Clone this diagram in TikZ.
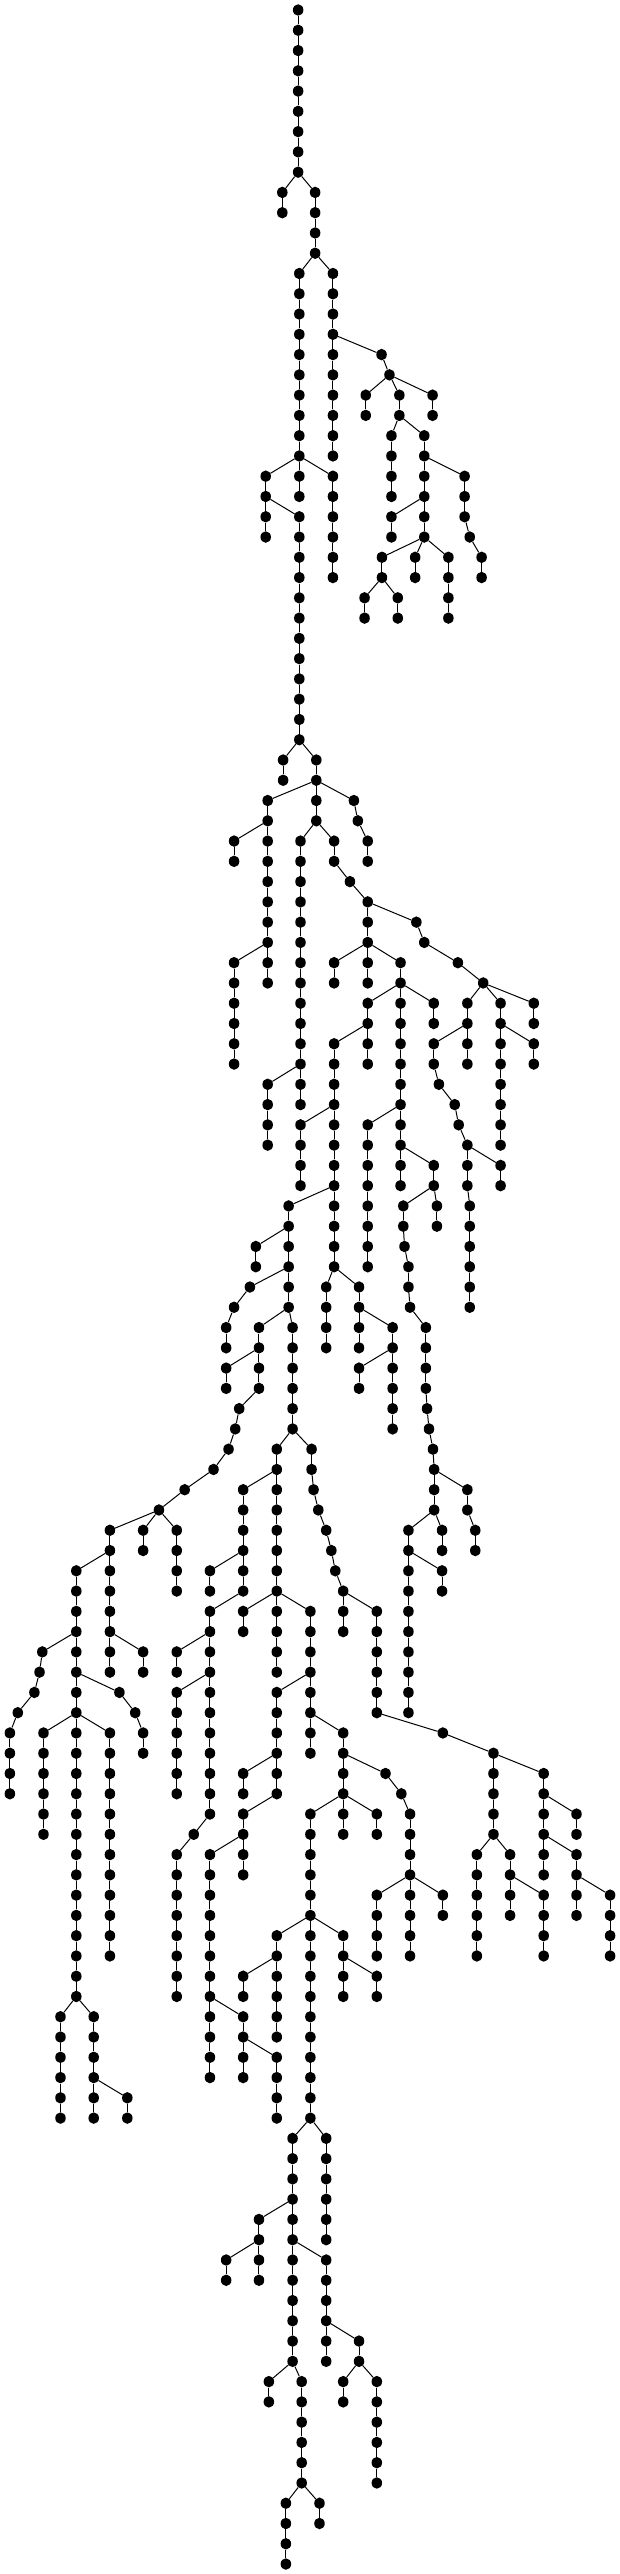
\documentclass[tikz,border=0pt]{standalone}
\usetikzlibrary{shapes.geometric}
\tikzset{
  dot/.style={ellipse, fill=black, draw=none, minimum width=10.5pt, minimum height=11.5pt, inner sep=0pt},
  edge/.style={line width=1pt, black}
}
\newcommand\rootchain[4]{%
  \foreach \k [remember=\k as \p (initially #3)] in {#3,...,#4}{%
    \node[dot] (#1-\k) at ({#2*0.3954},{10+20.27*\k}) {};
    \ifnum\k>#3 \draw[edge] (#1-\p) -- (#1-\k);\fi
  }%
}
\newcommand\mychain[5]{%
  \foreach \k [remember=\k as \p (initially #4)] in {#4,...,#5}{%
    \node[dot] (#1-\k) at ({#3*0.3954},{10+20.27*\k}) {};
    \ifnum\k>#4 \draw[edge] (#1-\p) -- (#1-\k);\fi
  }%
  \draw[edge] (#2) -- (#1-#4);
}
\begin{document}
\begin{tikzpicture}[x=1pt,y=-1pt]
\useasboundingbox (0,0) rectangle (620,2574);
\fill[white] (0,0) rectangle (620,2574);
\rootchain{R}{754}{0}{8}
\mychain{c1}{R-8}{714}{9}{10}
\mychain{c2}{R-8}{797}{9}{12}
\mychain{c3}{c2-12}{757}{13}{22}
\mychain{c4}{c2-12}{842}{13}{22}
\mychain{c5}{c4-16}{965}{17}{17}
\mychain{c6}{c5-17}{985}{18}{18}
\mychain{c7}{c6-18}{925}{19}{20}
\mychain{c8}{c6-18}{1010}{19}{20}
\mychain{c9}{c6-18}{1094}{19}{20}
\mychain{c10}{c8-20}{990}{21}{24}
\mychain{c11}{c8-20}{1073}{21}{26}
\mychain{c13}{c11-22}{1175}{23}{25}
\mychain{c14}{c13-25}{1188}{26}{26}
\mychain{c15}{c14-26}{1218}{27}{28}
\mychain{c16}{c11-24}{990}{25}{26}
\mychain{c17}{c11-26}{966}{27}{28}
\mychain{c18}{c17-28}{922}{29}{30}
\mychain{c19}{c17-28}{1006}{29}{30}
\mychain{c20}{c11-26}{1050}{27}{28}
\mychain{c21}{c11-26}{1134}{27}{30}
\mychain{c22}{c3-22}{672}{23}{26}
\mychain{c23}{c3-22}{757}{23}{24}
\mychain{c24}{c3-22}{842}{23}{28}
\mychain{c25}{c22-24}{757}{25}{36}
\mychain{c26}{c25-36}{716}{37}{38}
\mychain{c27}{c25-36}{800}{37}{40}
\mychain{c28}{c27-38}{677}{39}{48}
\mychain{c29}{c28-40}{592}{41}{42}
\mychain{c30}{c28-46}{592}{47}{52}
\mychain{c31}{c27-38}{895}{39}{39}
\mychain{c32}{c31-39}{905}{40}{40}
\mychain{c33}{c32-40}{930}{41}{42}
\mychain{c34}{c27-40}{760}{41}{54}
\mychain{c35}{c34-52}{677}{53}{56}
\mychain{c36}{c27-40}{845}{41}{42}
\mychain{c37}{c36-42}{885}{43}{43}
\mychain{c38}{c37-43}{930}{44}{48}
\mychain{c39}{c38-46}{845}{47}{48}
\mychain{c40}{c38-46}{1013}{47}{58}
\mychain{c41}{c40-48}{930}{49}{52}
\mychain{c42}{c41-50}{845}{51}{62}
\mychain{c43}{c40-48}{1097}{49}{50}
\mychain{c44}{c38-44}{1053}{45}{45}
\mychain{c45}{c44-45}{1073}{46}{46}
\mychain{c46}{c45-46}{1158}{47}{47}
\mychain{c47}{c46-47}{1222}{48}{48}
\mychain{c48}{c47-48}{1182}{49}{52}
\mychain{c49}{c48-50}{1097}{51}{52}
\mychain{c50}{c49-52}{1110}{53}{53}
\mychain{c51}{c50-53}{1150}{54}{54}
\mychain{c52}{c51-54}{1160}{55}{55}
\mychain{c53}{c52-55}{1182}{56}{58}
\mychain{c54}{c53-58}{1188}{59}{64}
\mychain{c55}{c53-56}{1266}{57}{58}
\mychain{c56}{c47-48}{1266}{49}{56}
\mychain{c57}{c56-50}{1350}{51}{52}
\mychain{c58}{c47-48}{1350}{49}{50}
\mychain{c59}{c42-54}{760}{55}{58}
\mychain{c60}{c42-58}{730}{59}{64}
\mychain{c61}{c60-60}{647}{61}{62}
\mychain{c62}{c60-62}{632}{63}{63}
\mychain{c63}{c62-63}{592}{64}{64}
\mychain{c64}{c63-64}{572}{65}{66}
\mychain{c65}{c60-64}{655}{65}{68}
\mychain{c66}{c65-66}{572}{67}{68}
\mychain{c67}{c65-68}{605}{69}{69}
\mychain{c68}{c67-69}{595}{70}{70}
\mychain{c69}{c68-70}{578}{71}{71}
\mychain{c70}{c69-71}{540}{72}{72}
\mychain{c71}{c70-72}{467}{73}{73}
\mychain{c72}{c71-73}{402}{74}{74}
\mychain{c73}{c60-64}{740}{65}{70}
\mychain{c74}{c73-70}{700}{71}{72}
\mychain{c75}{c73-70}{788}{71}{72}
\mychain{c76}{c75-72}{793}{73}{73}
\mychain{c77}{c76-73}{805}{74}{74}
\mychain{c78}{c42-62}{825}{63}{66}
\mychain{c79}{c42-62}{908}{63}{66}
\mychain{c80}{c79-64}{993}{65}{70}
\mychain{c81}{c80-66}{908}{67}{68}
\mychain{c82}{c40-54}{930}{55}{62}
\mychain{c83}{c40-56}{1097}{57}{58}
\mychain{c84}{c83-58}{1020}{59}{60}
\mychain{c85}{c84-60}{1023}{61}{61}
\mychain{c86}{c85-61}{1033}{62}{63}
\mychain{c87}{c86-63}{1037}{64}{64}
\mychain{c88}{c87-64}{1077}{65}{68}
\mychain{c89}{c88-68}{1080}{69}{69}
\mychain{c90}{c89-69}{1085}{70}{70}
\mychain{c91}{c90-70}{1095}{71}{71}
\mychain{c92}{c91-71}{1098}{72}{74}
\mychain{c93}{c92-72}{1182}{73}{74}
\mychain{c94}{c93-74}{1202}{75}{76}
\mychain{c95}{c83-58}{1105}{59}{60}
\mychain{c96}{c74-72}{615}{73}{78}
\mychain{c97}{c74-72}{700}{73}{82}
\mychain{c98}{c96-76}{531}{77}{78}
\mychain{c99}{c96-78}{531}{79}{89}
\mychain{c100}{c99-80}{447}{81}{82}
\mychain{c101}{c99-82}{447}{83}{88}
\mychain{c102}{c99-89}{490}{90}{90}
\mychain{c103}{c102-90}{447}{91}{98}
\mychain{c104}{c97-78}{615}{79}{80}
\mychain{c105}{c97-78}{785}{79}{86}
\mychain{c106}{c105-82}{700}{83}{88}
\mychain{c107}{c106-86}{615}{87}{88}
\mychain{c108}{c106-88}{615}{89}{92}
\mychain{c109}{c108-90}{531}{91}{102}
\mychain{c110}{c109-98}{615}{99}{102}
\mychain{c111}{c110-100}{700}{101}{104}
\mychain{c112}{c105-84}{868}{85}{90}
\mychain{c113}{c112-86}{975}{87}{87}
\mychain{c114}{c113-87}{1015}{88}{88}
\mychain{c115}{c114-88}{1037}{89}{96}
\mychain{c116}{c115-92}{953}{93}{96}
\mychain{c117}{c115-92}{1120}{93}{94}
\mychain{c118}{c112-88}{785}{89}{104}
\mychain{c119}{c112-88}{953}{89}{90}
\mychain{c120}{c118-94}{700}{95}{100}
\mychain{c121}{c120-96}{615}{97}{98}
\mychain{c122}{c118-94}{868}{95}{98}
\mychain{c123}{c122-96}{953}{97}{98}
\mychain{c124}{c118-104}{740}{105}{116}
\mychain{c125}{c118-104}{825}{105}{110}
\mychain{c126}{c124-108}{655}{109}{112}
\mychain{c127}{c126-110}{572}{111}{112}
\mychain{c128}{c124-110}{825}{111}{116}
\mychain{c129}{c128-114}{908}{115}{116}
\mychain{c130}{c129-116}{868}{117}{118}
\mychain{c131}{c129-116}{953}{117}{122}
\mychain{c132}{c124-116}{680}{117}{118}
\mychain{c133}{c124-116}{763}{117}{122}
\mychain{c134}{c133-122}{723}{123}{126}
\mychain{c135}{c133-122}{808}{123}{124}
\mychain{c136}{c72-74}{278}{75}{82}
\mychain{c137}{c72-74}{362}{75}{76}
\mychain{c138}{c72-74}{447}{75}{78}
\mychain{c139}{c136-76}{193}{77}{98}
\mychain{c140}{c136-80}{362}{81}{82}
\mychain{c141}{c139-80}{107}{81}{81}
\mychain{c142}{c141-81}{100}{82}{82}
\mychain{c143}{c142-82}{87}{83}{83}
\mychain{c144}{c143-83}{45}{84}{84}
\mychain{c145}{c144-84}{25}{85}{88}
\mychain{c146}{c139-82}{302}{83}{83}
\mychain{c147}{c146-83}{342}{84}{84}
\mychain{c148}{c147-84}{362}{85}{86}
\mychain{c149}{c139-84}{110}{85}{90}
\mychain{c150}{c139-84}{278}{85}{96}
\mychain{c151}{c139-98}{153}{99}{104}
\mychain{c152}{c139-98}{237}{99}{104}
\mychain{c153}{c152-102}{322}{103}{104}
\mychain{c154}{c77-74}{825}{75}{75}
\mychain{c155}{c154-75}{838}{76}{76}
\mychain{c156}{c155-76}{848}{77}{77}
\mychain{c157}{c156-77}{868}{78}{80}
\mychain{c158}{c157-78}{953}{79}{84}
\mychain{c159}{c158-84}{1120}{85}{85}
\mychain{c160}{c159-85}{1248}{86}{90}
\mychain{c161}{c160-86}{1375}{87}{92}
\mychain{c162}{c161-88}{1458}{89}{90}
\mychain{c163}{c161-90}{1458}{91}{94}
\mychain{c164}{c163-92}{1543}{93}{96}
\mychain{c165}{c160-90}{1206}{91}{96}
\mychain{c166}{c160-90}{1290}{91}{94}
\mychain{c167}{c166-92}{1375}{93}{96}
\mychain{c168}{c92-74}{1033}{75}{84}
\mychain{c169}{c92-74}{1118}{75}{76}
\mychain{c170}{c168-76}{1118}{77}{78}
\end{tikzpicture}
\end{document}
